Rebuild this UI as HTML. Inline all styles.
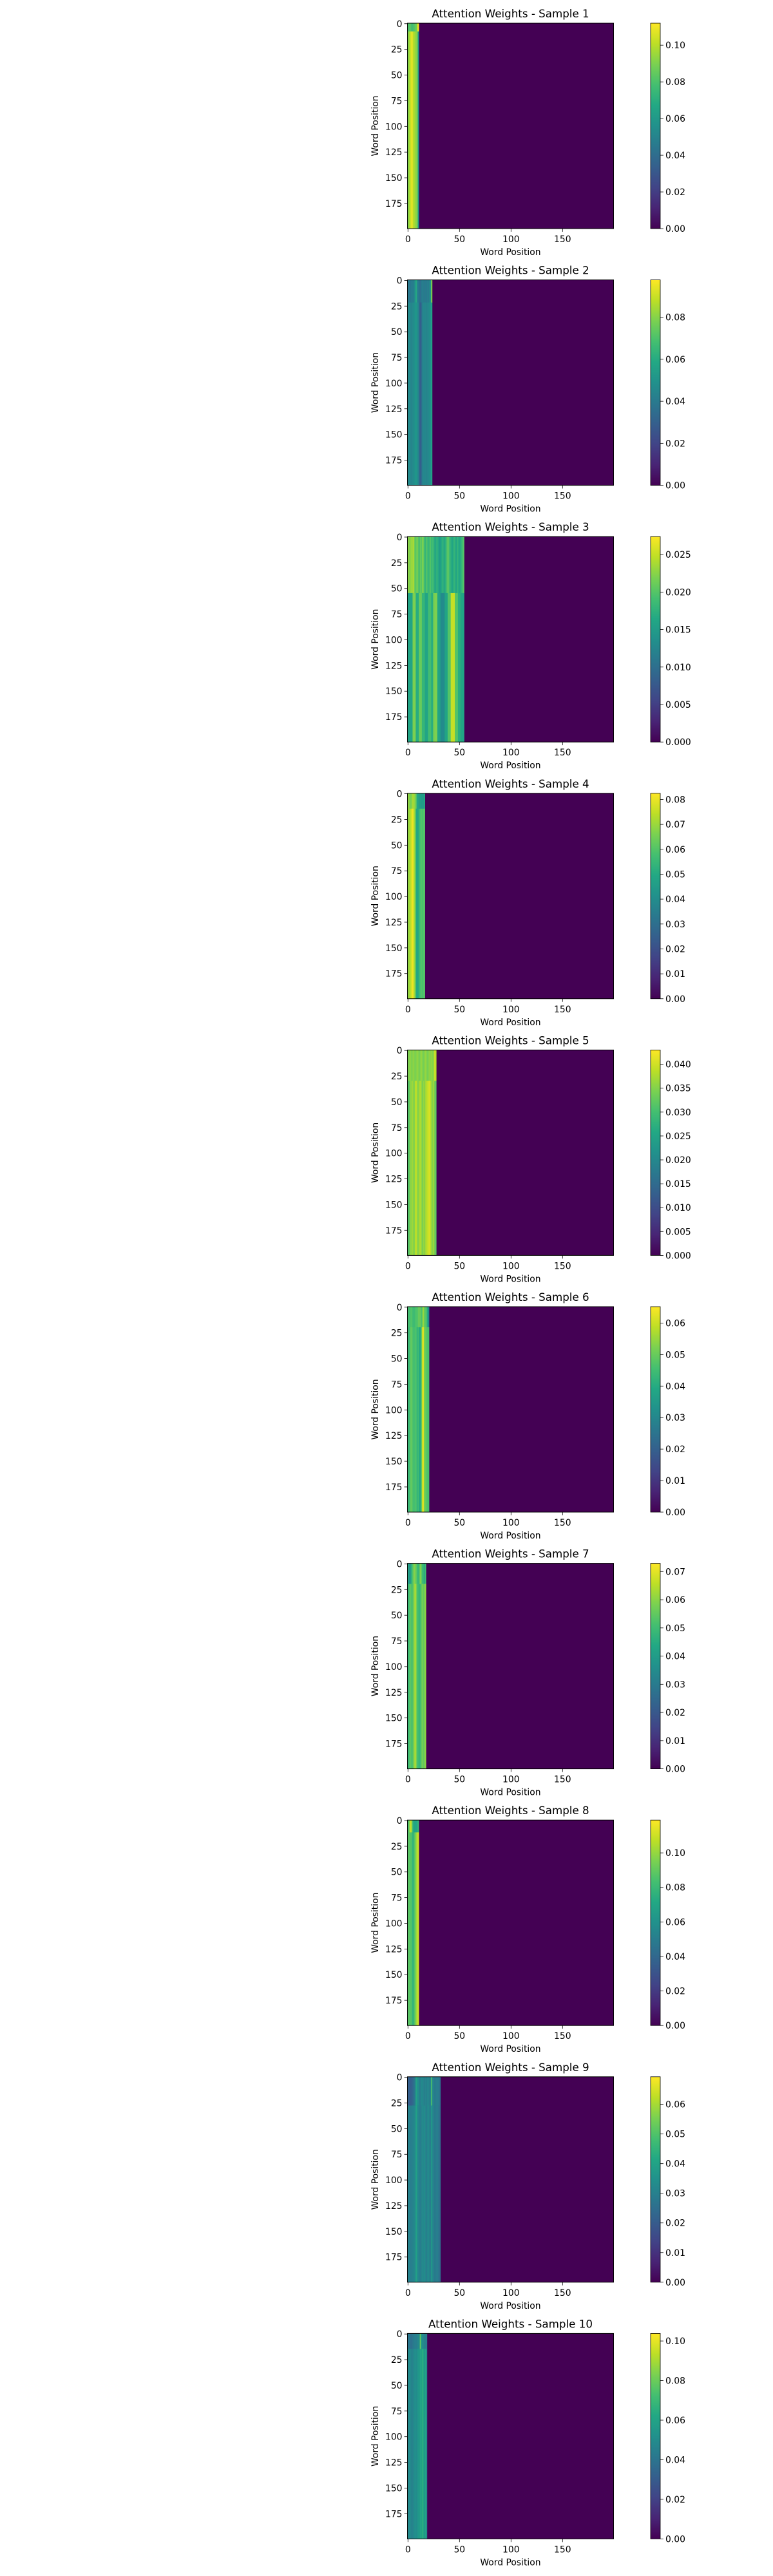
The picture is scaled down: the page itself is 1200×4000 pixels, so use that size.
<!DOCTYPE html>
<html>
<head>
<meta charset="utf-8">
<style>
html,body{margin:0;padding:0;background:#fff;}
svg{display:block;}
text{font-family:"DejaVu Sans","Liberation Sans",sans-serif;fill:#000;}
</style>
</head>
<body>
<svg id="fig" width="1200" height="4000" viewBox="0 0 1200 4000" xmlns="http://www.w3.org/2000/svg">
<defs>
<linearGradient id="viridis" x1="0" y1="1" x2="0" y2="0">
<stop offset="0" stop-color="#440154"/><stop offset="0.1" stop-color="#482475"/><stop offset="0.2" stop-color="#414487"/><stop offset="0.3" stop-color="#355f8d"/><stop offset="0.4" stop-color="#2a788e"/><stop offset="0.5" stop-color="#21918c"/><stop offset="0.6" stop-color="#22a884"/><stop offset="0.7" stop-color="#44bf70"/><stop offset="0.8" stop-color="#7ad151"/><stop offset="0.9" stop-color="#bddf26"/><stop offset="1" stop-color="#fde725"/>
</linearGradient>
</defs>
</svg>
<script>
// ---- data ----
const sampleTitles = ["Sample 1","Sample 2","Sample 3","Sample 4","Sample 5","Sample 6","Sample 7","Sample 8","Sample 9","Sample 10"];
const colorMax = [0.112,0.0978,0.0274,0.0825,0.043,0.0652,0.0729,0.119,0.0693,0.1038];
const colorTickStep = [0.02,0.02,0.005,0.01,0.005,0.01,0.01,0.02,0.01,0.02];
const headRows = [8,22,55,15,30,20,20,12,28,15];
const bodyValues = [
 [0.088,0.095,0.1,0.105,0.11,0.1,0.098,0.095,0.092,0.09,0.06],
 [0.045,0.047,0.046,0.044,0.045,0.047,0.048,0.05,0.052,0.048,0.045,0.035,0.028,0.035,0.042,0.045,0.046,0.045,0.044,0.045,0.046,0.048,0.05,0.058],
 [0.016,0.016,0.016,0.016,0.016,0.022,0.022,0.022,0.017,0.017,0.017,0.021,0.021,0.021,0.018,0.018,0.018,0.016,0.016,0.016,0.019,0.019,0.019,0.017,0.017,0.022,0.022,0.022,0.022,0.016,0.016,0.016,0.013,0.013,0.013,0.013,0.016,0.016,0.016,0.02,0.02,0.02,0.025,0.025,0.025,0.025,0.02,0.02,0.02,0.017,0.017,0.017,0.016,0.016,0.016],
 [0.068,0.07,0.072,0.075,0.08,0.08,0.072,0.068,0.05,0.048,0.05,0.055,0.058,0.06,0.058,0.06,0.06],
 [0.033,0.03,0.036,0.035,0.037,0.036,0.034,0.038,0.039,0.036,0.035,0.037,0.038,0.036,0.034,0.036,0.035,0.037,0.038,0.039,0.04,0.041,0.038,0.036,0.035,0.037,0.034,0.032],
 [0.045,0.043,0.047,0.05,0.048,0.046,0.045,0.047,0.046,0.042,0.045,0.04,0.038,0.048,0.06,0.062,0.052,0.05,0.048,0.047,0.046],
 [0.048,0.05,0.055,0.053,0.05,0.055,0.06,0.066,0.058,0.052,0.05,0.048,0.05,0.055,0.058,0.055,0.058,0.06],
 [0.085,0.09,0.085,0.088,0.08,0.075,0.085,0.09,0.1,0.105,0.11],
 [0.03,0.031,0.03,0.029,0.03,0.031,0.032,0.033,0.04,0.034,0.032,0.03,0.029,0.031,0.033,0.032,0.034,0.031,0.03,0.032,0.033,0.031,0.03,0.038,0.032,0.03,0.029,0.028,0.03,0.029,0.027,0.026],
 [0.048,0.05,0.05,0.047,0.045,0.048,0.05,0.052,0.05,0.052,0.055,0.055,0.062,0.058,0.065,0.06,0.055,0.06,0.05]
];
const headValues = [
 [0.08,0.08,0.085,0.08,0.075,0.08,0.08,0.085,0.085,0.1,0.11],
 [0.04,0.04,0.038,0.04,0.042,0.04,0.045,0.05,0.06,0.045,0.04,0.038,0.035,0.04,0.042,0.04,0.042,0.04,0.04,0.042,0.04,0.045,0.05,0.08],
 [0.022,0.023,0.021,0.024,0.022,0.025,0.022,0.02,0.021,0.022,0.02,0.019,0.021,0.02,0.022,0.021,0.019,0.018,0.02,0.019,0.018,0.019,0.02,0.018,0.019,0.018,0.017,0.016,0.018,0.017,0.016,0.015,0.016,0.017,0.018,0.016,0.017,0.018,0.02,0.021,0.019,0.018,0.017,0.016,0.017,0.018,0.017,0.016,0.018,0.017,0.016,0.017,0.018,0.019,0.02],
 [0.07,0.068,0.066,0.065,0.07,0.072,0.07,0.068,0.06,0.05,0.048,0.045,0.046,0.045,0.045,0.045,0.05],
 [0.035,0.034,0.036,0.035,0.034,0.036,0.035,0.034,0.035,0.036,0.035,0.034,0.035,0.036,0.035,0.034,0.035,0.036,0.035,0.034,0.035,0.036,0.035,0.036,0.035,0.036,0.04,0.038],
 [0.045,0.046,0.045,0.048,0.046,0.045,0.044,0.046,0.047,0.046,0.05,0.05,0.05,0.046,0.05,0.055,0.05,0.048,0.046,0.04,0.03],
 [0.045,0.04,0.035,0.045,0.05,0.055,0.06,0.058,0.055,0.05,0.048,0.052,0.06,0.055,0.05,0.048,0.045,0.05],
 [0.08,0.09,0.105,0.11,0.09,0.075,0.07,0.07,0.07,0.072,0.08],
 [0.022,0.021,0.02,0.021,0.022,0.024,0.026,0.03,0.04,0.035,0.034,0.03,0.029,0.033,0.032,0.031,0.03,0.031,0.03,0.032,0.031,0.03,0.032,0.05,0.032,0.03,0.029,0.028,0.03,0.029,0.028,0.027],
 [0.04,0.042,0.04,0.038,0.04,0.042,0.044,0.045,0.044,0.046,0.048,0.05,0.08,0.055,0.05,0.048,0.046,0.045,0.044]
];
const rowTicks = [0,25,50,75,100,125,150,175];
const colTicks = [0,50,100,150];
const gridSize = 200;

// ---- layout ----
const NS="http://www.w3.org/2000/svg";
const svg=document.getElementById('fig');
const AX_L=632.5, AX_W=320, AX_H=319, TOP0=36, PITCH=398.6;
const CB_L=1010, CB_W=15;
const stops=[[68,1,84],[72,36,117],[65,68,135],[53,95,141],[42,120,142],[33,145,140],[34,168,132],[68,191,112],[122,209,81],[189,223,38],[253,231,37]];
function viridis(t){t=Math.max(0,Math.min(1,t));const p=t*10,i=Math.min(9,Math.floor(p)),f=p-i;const a=stops[i],b=stops[i+1];
 return `rgb(${Math.round(a[0]+(b[0]-a[0])*f)},${Math.round(a[1]+(b[1]-a[1])*f)},${Math.round(a[2]+(b[2]-a[2])*f)})`;}
function mk(tag,attrs,parent){const e=document.createElementNS(NS,tag);for(const k in attrs)e.setAttribute(k,attrs[k]);(parent||svg).appendChild(e);return e;}

sampleTitles.forEach((title,s)=>{
 const top=TOP0+PITCH*s;
 const xs=v=>AX_L+(v+0.5)*AX_W/gridSize;
 const ys=v=>top+(v+0.5)*AX_H/gridSize;
 const g=mk('g',{});
 
 
 const t=mk('text',{x:AX_L+AX_W/2,y:top-9,'text-anchor':'middle','font-size':'16.7'},g);
 t.textContent='Attention Weights - '+title;
 
 
 const vmax=colorMax[s];
 const bg=mk('rect',{x:AX_L,y:top,width:AX_W,height:AX_H,fill:viridis(0)},g);
 
 
 const L=bodyValues[s].length;
 for(let c=0;c<L;c++){
  const x0=xs(c-0.5), w=xs(c+0.5)-x0+0.3;
  const hr=headRows[s];
  const r1=mk('rect',{x:x0,y:ys(-0.5),width:w,height:ys(hr-0.5)-ys(-0.5)+0.3,fill:viridis(headValues[s][c]/vmax)},g);
  
  
  const r2=mk('rect',{x:x0,y:ys(hr-0.5),width:w,height:ys(gridSize-0.5)-ys(hr-0.5),fill:viridis(bodyValues[s][c]/vmax)},g);
  
  
 }
 const fr=mk('rect',{x:AX_L,y:top,width:AX_W,height:AX_H,fill:'none',stroke:'#000','stroke-width':1},g);
 
 
 rowTicks.forEach(v=>{
  const y=ys(v);
  mk('line',{x1:AX_L-4.9,x2:AX_L,y1:y,y2:y,stroke:'#000','stroke-width':0.8},g);
  const tl=mk('text',{x:AX_L-8,y:y+5,'text-anchor':'end','font-size':'13.9'},g);
  tl.textContent=v;
  
  
 });
 colTicks.forEach(v=>{
  const x=xs(v);
  mk('line',{x1:x,x2:x,y1:top+AX_H,y2:top+AX_H+4.9,stroke:'#000','stroke-width':0.8},g);
  const tl=mk('text',{x:x,y:top+AX_H+21,'text-anchor':'middle','font-size':'13.9'},g);
  tl.textContent=v;
  
  
 });
 const xl=mk('text',{x:AX_L+AX_W/2,y:top+AX_H+41,'text-anchor':'middle','font-size':'13.9'},g);
 xl.textContent='Word Position';
 
 
 const yl=mk('text',{x:0,y:0,'text-anchor':'middle','font-size':'13.9',transform:`translate(587,${top+AX_H/2}) rotate(-90)`},g);
 yl.textContent='Word Position';
 
 
 const cb=mk('rect',{x:CB_L,y:top,width:CB_W,height:AX_H,fill:'url(#viridis)',stroke:'#000','stroke-width':0.8},g);
 
 
 const step=colorTickStep[s], dec=step<0.01?3:2;
 for(let k=0;k*step<=vmax;k++){
  const v=k*step, y=top+AX_H-(v/vmax)*AX_H;
  mk('line',{x1:CB_L+CB_W,x2:CB_L+CB_W+4.9,y1:y,y2:y,stroke:'#000','stroke-width':0.8},g);
  const tl=mk('text',{x:CB_L+CB_W+8,y:y+5,'font-size':'13.9'},g);
  tl.textContent=v.toFixed(dec);
  
  
 }
});
</script>
</body>
</html>
